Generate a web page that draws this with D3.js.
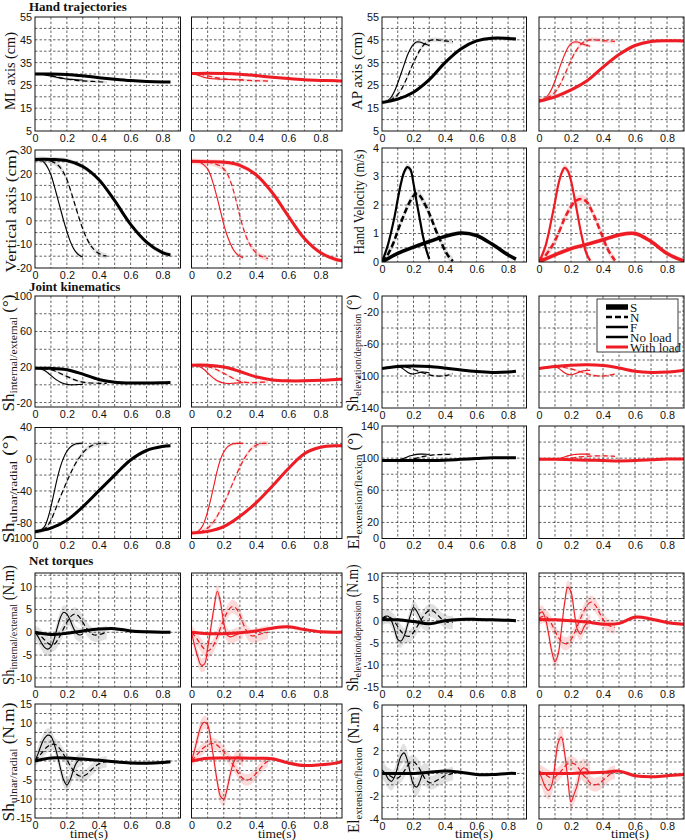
<!DOCTYPE html>
<html>
<head>
<meta charset="utf-8">
<script src="https://cdn.jsdelivr.net/npm/d3@7"></script>
<style>
  body { margin: 0; background: #fff; }
  .tick text { font-family: 'Liberation Sans', Arial, sans-serif; font-size: 10.8px; fill: #111; }
  .serif { font-family: 'Liberation Serif', 'Times New Roman', serif; fill: #111; }
</style>
</head>
<body>
<svg id="fig" width="685" height="840"></svg>
<script>
// sample times (s): S = slow, N = normal, F = fast; 0 = no load, 1 = with load
const tS0 = [0, 0.1, 0.2, 0.3, 0.4, 0.5, 0.6, 0.7, 0.8, 0.85];
const tN0 = [0, 0.025, 0.05, 0.075, 0.1, 0.125, 0.15, 0.175, 0.2, 0.225, 0.25, 0.275, 0.3, 0.325, 0.35, 0.375, 0.4, 0.425, 0.45];
const tF0 = [0, 0.02, 0.04, 0.06, 0.08, 0.1, 0.12, 0.14, 0.16, 0.18, 0.2, 0.22, 0.24, 0.26, 0.28, 0.3];
const tS1 = [0, 0.1, 0.2, 0.3, 0.4, 0.5, 0.6, 0.7, 0.8, 0.9, 0.95];
const tN1 = [0, 0.025, 0.05, 0.075, 0.1, 0.125, 0.15, 0.175, 0.2, 0.225, 0.25, 0.275, 0.3, 0.325, 0.35, 0.375, 0.4, 0.425, 0.45, 0.475];
const tF1 = [0, 0.02, 0.04, 0.06, 0.08, 0.1, 0.12, 0.14, 0.16, 0.18, 0.2, 0.22, 0.24, 0.26, 0.28, 0.3, 0.32];

// ML axis (cm)
const ml_S0 = [30, 30, 29.8, 29.2, 28.4, 27.7, 27.1, 26.7, 26.5, 26.5];
const ml_N0 = [30, 30, 29.9, 29.6, 29.3, 28.9, 28.5, 28.1, 27.8, 27.5, 27.3, 27.1, 27, 26.9, 26.8, 26.7, 26.6, 26.5, 26.4];
const ml_F0 = [30, 30, 29.9, 29.7, 29.4, 29.1, 28.8, 28.5, 28.2, 28, 27.8, 27.7, 27.6, 27.5, 27.4, 27.4];
const ml_S1 = [30.2, 30.3, 30.2, 29.9, 29.3, 28.6, 28, 27.5, 27.2, 27, 26.9];
const ml_N1 = [30.2, 30.1, 29.9, 29.6, 29.2, 28.8, 28.4, 28.1, 27.9, 27.7, 27.6, 27.5, 27.4, 27.3, 27.2, 27.1, 27.1, 27, 27, 26.9];
const ml_F1 = [30.2, 30, 29.5, 29, 28.5, 28.2, 28, 27.9, 27.8, 27.7, 27.7, 27.6, 27.6, 27.5, 27.5, 27.5, 27.5];

// AP axis (cm)
const ap_S0 = [17.5, 19, 22, 27.5, 35, 41, 44.5, 45.7, 45.6, 45.4];
const ap_N0 = [17.5, 17.8, 18.5, 19.5, 21, 23.5, 27, 31, 35, 38.5, 41.5, 43.5, 44.6, 45, 45, 44.8, 44.5, 44.3, 44.2];
const ap_F0 = [17.5, 17.8, 18.5, 20, 22.5, 26, 30, 34, 38, 41, 43, 44, 44, 43.5, 43, 42.5];
const ap_S1 = [18, 20, 23, 27, 33, 38.5, 42.5, 44.3, 44.6, 44.5, 44.5];
const ap_N1 = [18.5, 18.8, 19.5, 20.5, 22, 24.5, 28, 32, 36, 39.5, 42, 43.8, 44.7, 45, 45, 44.8, 44.6, 44.5, 44.4, 44.3];
const ap_F1 = [18.5, 18.8, 19.5, 21, 23.5, 27, 31, 35, 38.5, 41.5, 43.3, 44, 44, 43.5, 43, 42.5, 42.2];

// Vertical axis (cm)
const vt_S0 = [26, 26, 25.5, 23, 17.5, 8.5, -1.5, -9, -13.5, -14.5];
const vt_N0 = [26, 26, 26, 25.8, 25.3, 24.5, 23.2, 21, 17.5, 12.5, 7, 1.5, -3.5, -7.5, -10.5, -12.5, -13.8, -14.5, -15];
const vt_F0 = [26, 26, 25.6, 24.5, 22.5, 19.5, 15, 10, 5, 0, -4.5, -8.5, -11.5, -13.5, -14.7, -15.3];
const vt_S1 = [25.2, 25, 24.8, 23.5, 19.5, 12, 2, -7.5, -13.5, -16.5, -17];
const vt_N1 = [25.2, 25.2, 25, 25, 24.8, 24.5, 24, 23.3, 22, 19.5, 15, 9, 2, -4, -8.5, -11.5, -13.5, -14.8, -15.5, -16];
const vt_F1 = [25.2, 25.2, 25, 24.5, 23.5, 22, 19, 14.5, 9.5, 4, -1.5, -6, -9.5, -12.3, -14, -15, -15.6];

// Hand velocity (m/s)
const vel_S0 = [0, 0.3, 0.52, 0.72, 0.9, 1.02, 0.93, 0.62, 0.25, 0.1];
const vel_N0 = [0, 0.15, 0.4, 0.7, 1.1, 1.45, 1.8, 2.1, 2.32, 2.4, 2.25, 2.0, 1.7, 1.35, 1.0, 0.7, 0.4, 0.18, 0.03];
const vel_F0 = [0, 0.3, 0.65, 1.1, 1.6, 2.2, 2.75, 3.15, 3.33, 3.25, 2.75, 2.1, 1.5, 0.9, 0.45, 0.1];
const vel_S1 = [0, 0.25, 0.47, 0.62, 0.78, 0.95, 1.0, 0.72, 0.3, 0.05, 0];
const vel_N1 = [0, 0.12, 0.3, 0.5, 0.75, 1.05, 1.4, 1.7, 1.95, 2.12, 2.2, 2.2, 2.1, 1.85, 1.55, 1.2, 0.85, 0.5, 0.25, 0.05];
const vel_F1 = [0, 0.25, 0.55, 1.0, 1.55, 2.1, 2.7, 3.1, 3.3, 3.2, 2.85, 2.3, 1.7, 1.1, 0.6, 0.25, 0.05];

// Shoulder internal/external (deg)
const sie_S0 = [18.5, 18.5, 17, 12, 6, 3, 2, 2, 2.3, 2.5];
const sie_N0 = [18.5, 18.5, 18.3, 17.8, 17, 15.5, 13.5, 11.5, 9.5, 7.5, 5.5, 4, 3, 2.3, 2, 1.8, 1.7, 1.6, 1.5];
const sie_F0 = [18.5, 18.3, 17.5, 16, 13.5, 10.5, 7.5, 5, 3, 1.5, 0.5, 0, 0, 0.2, 0.4, 0.5];
const sie_S1 = [22, 22, 20, 15, 9, 5.5, 4.5, 4.5, 5, 6, 6.5];
const sie_N1 = [22, 22, 21.8, 21.3, 20.5, 19.3, 17.5, 15.3, 13, 10.5, 8, 6, 4, 3, 2.5, 2.3, 2.5, 2.8, 3, 3.2];
const sie_F1 = [22, 21.8, 21, 19.5, 17, 13.5, 10, 7, 4.5, 3, 2, 1.5, 1.5, 1.8, 2, 2.3, 2.5];

// Shoulder elevation/depression (deg)
const sed_S0 = [-90.5, -88, -87.5, -88, -90, -92.5, -94.5, -95.5, -95, -94];
const sed_N0 = [-90.5, -90, -89.5, -89, -88.5, -88.5, -89, -90, -91.5, -93.5, -95.5, -97, -98.5, -99.5, -100, -100, -99.5, -98.5, -97];
const sed_F0 = [-90.5, -90, -89.5, -89, -88.5, -88.5, -89.5, -92, -95, -97, -97.5, -96.5, -95.5, -95, -95.5, -96];
const sed_S1 = [-90.5, -88, -86.5, -86, -87, -90, -94, -95.5, -95, -93, -92];
const sed_N1 = [-90.5, -90, -89.5, -89, -88.5, -88.5, -89, -90, -91, -92.5, -94, -95.5, -97, -98.5, -99.5, -100, -100, -99.5, -98.5, -97.5];
const sed_F1 = [-90.5, -90, -89.5, -89, -88.5, -88.5, -90, -93, -96, -98, -98.5, -97.5, -96, -94.5, -93.5, -93, -93];

// Shoulder ulnar/radial (deg)
const sur_S0 = [-91.5, -87, -77, -60, -40, -20, -1, 11, 16, 17];
const sur_N0 = [-91.5, -91, -89.5, -85, -77, -65, -52, -40, -28, -17, -7, 1, 8, 13, 16.5, 18.5, 19.5, 20, 20];
const sur_F0 = [-91.5, -91, -89, -85, -75, -60, -42, -24, -9, 2, 10, 15, 18, 19.5, 20, 20];
const sur_S1 = [-93, -91, -85, -72, -55, -34, -12, 7, 15, 17, 17];
const sur_N1 = [-93, -93, -92, -90, -87, -82, -75, -66, -56, -45, -33, -21, -10, 0, 8, 14, 17.5, 19.5, 20, 20];
const sur_F1 = [-93, -92.5, -91, -87, -79, -66, -50, -32, -14, 0, 9, 15, 18, 19.5, 20, 20, 20];

// Elbow extension/flexion (deg)
const eef_S0 = [97, 97, 97, 97, 97.5, 98.5, 99.5, 100.5, 100.5, 100.5];
const eef_N0 = [97, 97, 97, 97, 97, 97, 97.3, 98, 99, 100.3, 101.5, 102.5, 103.3, 104, 104.3, 104.5, 104.7, 104.8, 105];
const eef_F0 = [97, 97, 97, 97, 97, 97.5, 98.5, 100, 101.5, 103, 104, 104.7, 105, 105, 104.8, 104.5];
const eef_S1 = [98.5, 98.5, 98, 97.5, 97, 96.5, 97, 98, 99, 99, 99];
const eef_N1 = [98.5, 98.5, 98.5, 98.5, 98.5, 98.5, 98.7, 99.2, 100, 100.8, 101.5, 102, 102.3, 102.5, 102.7, 102.8, 102.8, 102.7, 102.5, 102.3];
const eef_F1 = [98.5, 98.5, 98.5, 98.5, 98.5, 98.7, 99.3, 100.3, 101.5, 102.8, 103.8, 104.5, 104.8, 105, 105, 105, 105];

// Net torque, shoulder internal/external (N.m)
const tie_S0 = [0, -0.5, -0.2, 0.3, 0.7, 0.8, 0.3, 0.1, 0, 0];
const tie_N0 = [0, -0.5, -1.3, -2.2, -2.8, -2.5, -1.2, 0.5, 2.2, 3.5, 4, 3.5, 2.2, 0.8, -0.2, -0.6, -0.5, -0.3, 0];
const tie_F0 = [0, -1, -2.3, -3.3, -3.7, -3.2, -1.5, 1, 3.3, 4.4, 4, 2.7, 1, -0.2, -0.6, -0.4];
const tie_S1 = [0, -0.3, -0.3, -0.1, 0.3, 0.9, 1.2, 0.6, 0.1, 0, 0.1];
const tie_N1 = [0, -1, -2.3, -3.5, -4.1, -3.5, -1.8, 0.5, 2.8, 4.6, 5.6, 5.3, 3.8, 1.5, -0.2, -0.8, -0.7, -0.4, -0.2, 0];
const tie_F1 = [0, -3, -5.5, -7.2, -7, -3.5, 1, 5.5, 9, 6.5, 2, -0.5, -1, -0.8, -0.5, -0.2, 0];

// Net torque, shoulder elevation/depression (N.m)
const ted_S0 = [0.3, 0.2, -0.2, -0.7, 0, 0.3, 0.3, 0.2, 0.1, 0];
const ted_N0 = [0.5, 0.8, 0.8, 0, -1.3, -2.6, -3.4, -3.5, -2.6, -1.2, 0.3, 1.6, 2.3, 2.2, 1.4, 0.5, -0.1, -0.4, -0.3];
const ted_F0 = [0.5, 1, 1, 0, -2, -4.2, -4.6, -3.5, -1.2, 1.2, 3, 2.2, 0.8, -0.4, -0.8, -0.8];
const ted_S1 = [0.3, 0.2, 0, -0.3, -0.8, -0.6, 0.8, 0.4, -0.4, -0.8, -0.9];
const ted_N1 = [0.5, 1, 0.8, -0.5, -2.3, -4, -5, -5.2, -4.3, -2.5, -0.3, 1.8, 3.5, 4.2, 3.6, 2, 0.3, -0.8, -1.3, -1.5];
const ted_F1 = [1.5, 2, 0.5, -3, -7, -9.3, -7.5, -2, 4, 7.6, 6.5, 2, -2, -3, -1.5, -0.5, 0];

// Net torque, shoulder ulnar/radial (N.m)
const tur_S0 = [0, 0.8, 0.8, 0.5, 0.2, -0.2, -0.5, -0.6, -0.4, -0.2];
const tur_N0 = [0, 1.2, 2.5, 3.7, 4.3, 4.4, 3.5, 2, 0.3, -1.5, -3, -3.9, -4, -3.5, -2.5, -1.5, -0.8, -0.4, -0.2];
const tur_F0 = [0, 2, 4.3, 6, 6.8, 6.5, 4.5, 1.5, -2, -5, -6.3, -5, -2.5, -0.5, 0.3, 0.3];
const tur_S1 = [0, 0.7, 0.8, 0.8, 0.7, 0.6, -0.5, -1.2, -1, -0.5, 0.2];
const tur_N1 = [0, 1.2, 2.4, 3.5, 4.2, 4.6, 4.4, 3.6, 2.4, 1, -0.5, -2.2, -3.8, -4.8, -5, -4.4, -3.3, -2, -0.8, 0];
const tur_F1 = [0, 3, 6.5, 9.2, 10.2, 9.5, 5.5, 0, -5.5, -9.3, -10, -7.5, -3.5, -0.5, 1, 1, 0];

// Net torque, elbow extension/flexion (N.m)
const tef_S0 = [0, 0, 0, 0.1, 0.2, 0.1, -0.1, -0.1, 0, 0];
const tef_N0 = [0.1, 0, -0.2, -0.4, -0.4, -0.1, 0.4, 0.9, 1, 0.7, 0.1, -0.5, -0.8, -0.8, -0.6, -0.4, -0.2, -0.1, 0];
const tef_F0 = [0.3, 0, -0.5, -0.7, -0.3, 0.6, 1.5, 1.8, 1.2, 0, -1, -1.2, -0.7, 0, 0.1, -0.2];
const tef_S1 = [0, 0, 0, 0.05, 0.1, 0.2, -0.2, -0.3, -0.2, -0.1, 0];
const tef_N1 = [0.2, 0, -0.2, -0.4, -0.3, 0, 0.4, 0.8, 0.9, 0.8, 0.4, -0.1, -0.5, -0.9, -1, -0.9, -0.6, -0.3, 0, 0.1];
const tef_F1 = [0.2, -0.5, -1.2, -1.5, -1, 0.8, 2.7, 3.2, 1.8, -0.5, -2.5, -1.8, -1, 0.2, 0.5, 0.3, 0];

// shaded spread (half width) for S, N, F
const mlBand = [0.5, 0.6, 0.5], apBand = [0.8, 1, 0.8], vtBand = [1, 1.2, 0.8], velBand = [0.08, 0.15, 0.12];
const sieBand = [1.5, 1.5, 1], sedBand = [1, 1.5, 1], surBand = [2, 3, 2], eefBand = [1, 1, 1];
const tieBand = [0.4, 1.5, 1.5], tedBand = [0.4, 1.5, 1.5], turBand = [0.4, 1.5, 1.8], tefBand = [0.1, 0.6, 0.8];

// tick labels
const xTicks = [0, 0.2, 0.4, 0.6, 0.8];
const xGrid = [0.1, 0.2, 0.3, 0.4, 0.5, 0.6, 0.7, 0.8, 0.9];
const mlTicks = [5, 15, 25, 35, 45, 55], apTicks = [5, 15, 25, 35, 45, 55];
const vtTicks = [-20, -10, 0, 10, 20, 30], velTicks = [0, 1, 2, 3, 4];
const sieTicks = [-20, 20, 60, 100], sedTicks = [-140, -100, -60, -20, 0];
const surTicks = [-100, -80, -40, 0, 40], eefTicks = [0, 20, 60, 100, 140];
const tieTicks = [-10, -5, 0, 5, 10], tedTicks = [-15, -10, -5, 0, 5, 10];
const turTicks = [-15, -10, -5, 0, 5, 10, 15], tefTicks = [-4, -2, 0, 2, 4, 6];

const legendNames = ['S', 'N', 'F', 'No load', 'With load'];

const BLACK = '#000', RED = '#ee1c24';
const colX0 = [35, 191.5, 382, 539];
const colX1 = [180.5, 342, 526.5, 684];
const colTmax = [0.913, 0.933, 0.917, 0.906];
const tSets = [[tS0, tN0, tF0], [tS1, tN1, tF1]];

const measures = [
  { id: 'ml', side: 0, y: [17, 131], dom: [5, 55], ticks: mlTicks, grid: 5, band: mlBand,
    data: [[ml_S0, ml_N0, ml_F0], [ml_S1, ml_N1, ml_F1]],
    label: [['ML axis (cm)', 14, 0]], lx: 15, lcy: 71, llen: 78 },
  { id: 'ap', side: 1, y: [17, 131], dom: [5, 55], ticks: apTicks, grid: 5, band: apBand,
    data: [[ap_S0, ap_N0, ap_F0], [ap_S1, ap_N1, ap_F1]],
    label: [['AP axis (cm)', 14, 0]], lx: 362, lcy: 71, llen: 78 },
  { id: 'vt', side: 0, y: [150, 268], dom: [-20, 30], ticks: vtTicks, grid: 5, band: vtBand,
    data: [[vt_S0, vt_N0, vt_F0], [vt_S1, vt_N1, vt_F1]],
    label: [['Vertical axis (cm)', 14, 0]], lx: 16, lcy: 211, llen: 123 },
  { id: 'vel', side: 1, y: [148, 262], dom: [0, 4], ticks: velTicks, grid: 0.5, band: velBand, thick: true,
    data: [[vel_S0, vel_N0, vel_F0], [vel_S1, vel_N1, vel_F1]],
    label: [['Hand Velocity (m/s)', 14, 0]], lx: 364, lcy: 202, llen: 105 },
  { id: 'sie', side: 0, y: [296, 407], dom: [-25, 100], ticks: sieTicks, grid: 20, band: sieBand,
    data: [[sie_S0, sie_N0, sie_F0], [sie_S1, sie_N1, sie_F1]],
    label: [['Sh', 16, 0], ['internal/external', 11, 2.5], [' (°)', 16, -2.5]], lx: 14, lcy: 353, llen: 117 },
  { id: 'sed', side: 1, y: [296, 408], dom: [-140, 0], ticks: sedTicks, grid: 20, band: sedBand,
    data: [[sed_S0, sed_N0, sed_F0], [sed_S1, sed_N1, sed_F1]],
    label: [['Sh', 16, 0], ['elevation/depression', 11, 2.5], [' (°)', 16, -2.5]], lx: 358, lcy: 353, llen: 117 },
  { id: 'sur', side: 0, y: [427.5, 538.5], dom: [-100, 40], ticks: surTicks, grid: 20, band: surBand,
    data: [[sur_S0, sur_N0, sur_F0], [sur_S1, sur_N1, sur_F1]],
    label: [['Sh', 16, 0], ['ulnar/radial', 11, 2.5], [' (°)', 16, -2.5]], lx: 14, lcy: 489, llen: 108 },
  { id: 'eef', side: 1, y: [426, 538.5], dom: [0, 140], ticks: eefTicks, grid: 20, band: eefBand,
    data: [[eef_S0, eef_N0, eef_F0], [eef_S1, eef_N1, eef_F1]],
    label: [['El', 16, 0], ['extension/flexion', 11, 2.5], [' (°)', 16, -2.5]], lx: 359, lcy: 491, llen: 117 },
  { id: 'tie', side: 0, y: [573, 687], dom: [-12, 13], ticks: tieTicks, grid: 2.5, band: tieBand,
    data: [[tie_S0, tie_N0, tie_F0], [tie_S1, tie_N1, tie_F1]],
    label: [['Sh', 16, 0], ['internal/external', 11, 2.5], [' (N.m)', 16, -2.5]], lx: 14, lcy: 625, llen: 120 },
  { id: 'ted', side: 1, y: [573, 687], dom: [-15, 10.8], ticks: tedTicks, grid: 2.5, band: tedBand,
    data: [[ted_S0, ted_N0, ted_F0], [ted_S1, ted_N1, ted_F1]],
    label: [['Sh', 16, 0], ['elevation/depression', 11, 2.5], [' (N.m)', 16, -2.5]], lx: 358, lcy: 628, llen: 127 },
  { id: 'tur', side: 0, y: [704, 818], dom: [-15, 15], ticks: turTicks, grid: 2.5, band: turBand,
    data: [[tur_S0, tur_N0, tur_F0], [tur_S1, tur_N1, tur_F1]],
    label: [['Sh', 16, 0], ['ulnar/radial', 11, 2.5], [' (N.m)', 16, -2.5]], lx: 14, lcy: 762, llen: 119 },
  { id: 'tef', side: 1, y: [705, 819], dom: [-4, 6], ticks: tefTicks, grid: 1, band: tefBand,
    data: [[tef_S0, tef_N0, tef_F0], [tef_S1, tef_N1, tef_F1]],
    label: [['El', 16, 0], ['extension/flexion', 11, 2.5], [' (N.m)', 16, -2.5]], lx: 359, lcy: 770, llen: 126 }
];

const svg = d3.select('#fig');
const curve = d3.curveCatmullRom.alpha(0.5);

function panel(m, load) {
  const col = m.side * 2 + load;
  const x = d3.scaleLinear().domain([0, colTmax[col]]).range([colX0[col], colX1[col]]);
  const y = d3.scaleLinear().domain(m.dom).range([m.y[1], m.y[0]]);
  const color = load ? RED : BLACK;
  const bandColor = load ? '#fbd3d3' : '#dcdcdc';
  const g = svg.append('g');
  const cid = 'clip-' + m.id + load;

  g.append('clipPath').attr('id', cid).append('rect')
    .attr('x', colX0[col]).attr('y', m.y[0])
    .attr('width', colX1[col] - colX0[col]).attr('height', m.y[1] - m.y[0]);

  const plot = g.append('g').attr('clip-path', `url(#${cid})`);

  // shaded spread
  m.data[load].forEach((vals, k) => {
    const ts = tSets[load][k];
    const area = d3.area()
      .x((d, i) => x(ts[i]))
      .y0(d => y(d - m.band[k]))
      .y1(d => y(d + m.band[k]))
      .curve(curve);
    plot.append('path').datum(vals)
      .attr('fill', bandColor).attr('opacity', 0.85).attr('d', area);
  });

  // grid
  const gridVals = d3.range(Math.ceil(m.dom[0] / m.grid) * m.grid, m.dom[1], m.grid)
    .filter(v => Math.abs(v - m.dom[0]) > 1e-6 && Math.abs(v - m.dom[1]) > 1e-6);
  plot.selectAll('.hg').data(gridVals).enter().append('line')
    .attr('x1', colX0[col]).attr('x2', colX1[col])
    .attr('y1', d => y(d)).attr('y2', d => y(d))
    .attr('stroke', '#222').attr('stroke-width', 0.7).attr('stroke-dasharray', '2.5,2');
  plot.selectAll('.vg').data(xGrid.filter(v => v < colTmax[col] - 0.005)).enter().append('line')
    .attr('x1', d => x(d)).attr('x2', d => x(d))
    .attr('y1', m.y[0]).attr('y2', m.y[1])
    .attr('stroke', '#222').attr('stroke-width', 0.7).attr('stroke-dasharray', '2.5,2');

  // curves: S thick, N dashed, F thin
  const widths = m.thick ? [3.5, 2.5, 2.2] : [3, 1.2, 1.1];
  const dashes = m.thick ? [null, '6,3', null] : [null, '5,3', null];
  m.data[load].forEach((vals, k) => {
    const ts = tSets[load][k];
    const line = d3.line().x((d, i) => x(ts[i])).y(d => y(d)).curve(curve);
    plot.append('path').datum(vals)
      .attr('fill', 'none').attr('stroke', color)
      .attr('stroke-width', widths[k])
      .attr('stroke-dasharray', dashes[k])
      .attr('stroke-linejoin', 'round')
      .attr('d', line);
  });

  // box
  g.append('rect')
    .attr('x', colX0[col]).attr('y', m.y[0])
    .attr('width', colX1[col] - colX0[col]).attr('height', m.y[1] - m.y[0])
    .attr('fill', 'none').attr('stroke', '#111').attr('stroke-width', 1);

  // axes
  const xa = g.append('g').attr('transform', `translate(0,${m.y[1]})`)
    .call(d3.axisBottom(x).tickValues(xTicks).tickSize(0).tickPadding(3).tickFormat(d => String(d)));
  xa.select('.domain').remove();

  if (load === 0) {
    const ya = g.append('g').attr('transform', `translate(${colX0[col]},0)`)
      .call(d3.axisLeft(y).tickValues(m.ticks).tickSize(0).tickPadding(3).tickFormat(d => String(d)));
    ya.select('.domain').remove();
  }
}

function yTitle(m) {
  const t = svg.append('text').attr('class', 'serif').attr('text-anchor', 'middle');
  m.label.forEach(([s, fs, dy]) => {
    t.append('tspan').text(s).attr('font-size', fs).attr('dy', dy);
  });
  const w = t.node().getComputedTextLength();
  t.attr('transform', `translate(${m.lx},${m.lcy}) rotate(-90) scale(${m.llen / w},1)`);
}

measures.forEach(m => {
  panel(m, 0);
  panel(m, 1);
  yTitle(m);
});

// section titles
[['Hand trajectories', 11], ['Joint kinematics', 291], ['Net torques', 565]].forEach(([s, yy]) => {
  svg.append('text').attr('class', 'serif').attr('x', 29).attr('y', yy)
    .attr('font-size', 13).attr('font-weight', 'bold').text(s);
});

// time(s) labels
[89, 277, 474, 630].forEach(cx => {
  svg.append('text').attr('class', 'serif').attr('x', cx).attr('y', 837.5)
    .attr('text-anchor', 'middle').attr('font-size', 13.5).text('time(s)');
});

// legend (in the red shoulder elevation panel)
const lg = svg.append('g');
lg.append('rect').attr('x', 597).attr('y', 299).attr('width', 81).attr('height', 53)
  .attr('fill', '#fff').attr('stroke', '#111').attr('stroke-width', 0.8);
const legStyle = [
  { w: 5.5, dash: null, c: BLACK },
  { w: 2.5, dash: '6,3', c: BLACK },
  { w: 2.5, dash: null, c: BLACK },
  { w: 2.5, dash: null, c: BLACK },
  { w: 3, dash: null, c: RED }
];
legendNames.forEach((name, i) => {
  const yy = 307 + i * 10;
  lg.append('line').attr('x1', 606).attr('x2', 628).attr('y1', yy).attr('y2', yy)
    .attr('stroke', legStyle[i].c).attr('stroke-width', legStyle[i].w)
    .attr('stroke-dasharray', legStyle[i].dash);
  lg.append('text').attr('class', 'serif').attr('x', 630).attr('y', yy + 4.5)
    .attr('font-size', 13).text(name);
});
</script>
</body>
</html>
